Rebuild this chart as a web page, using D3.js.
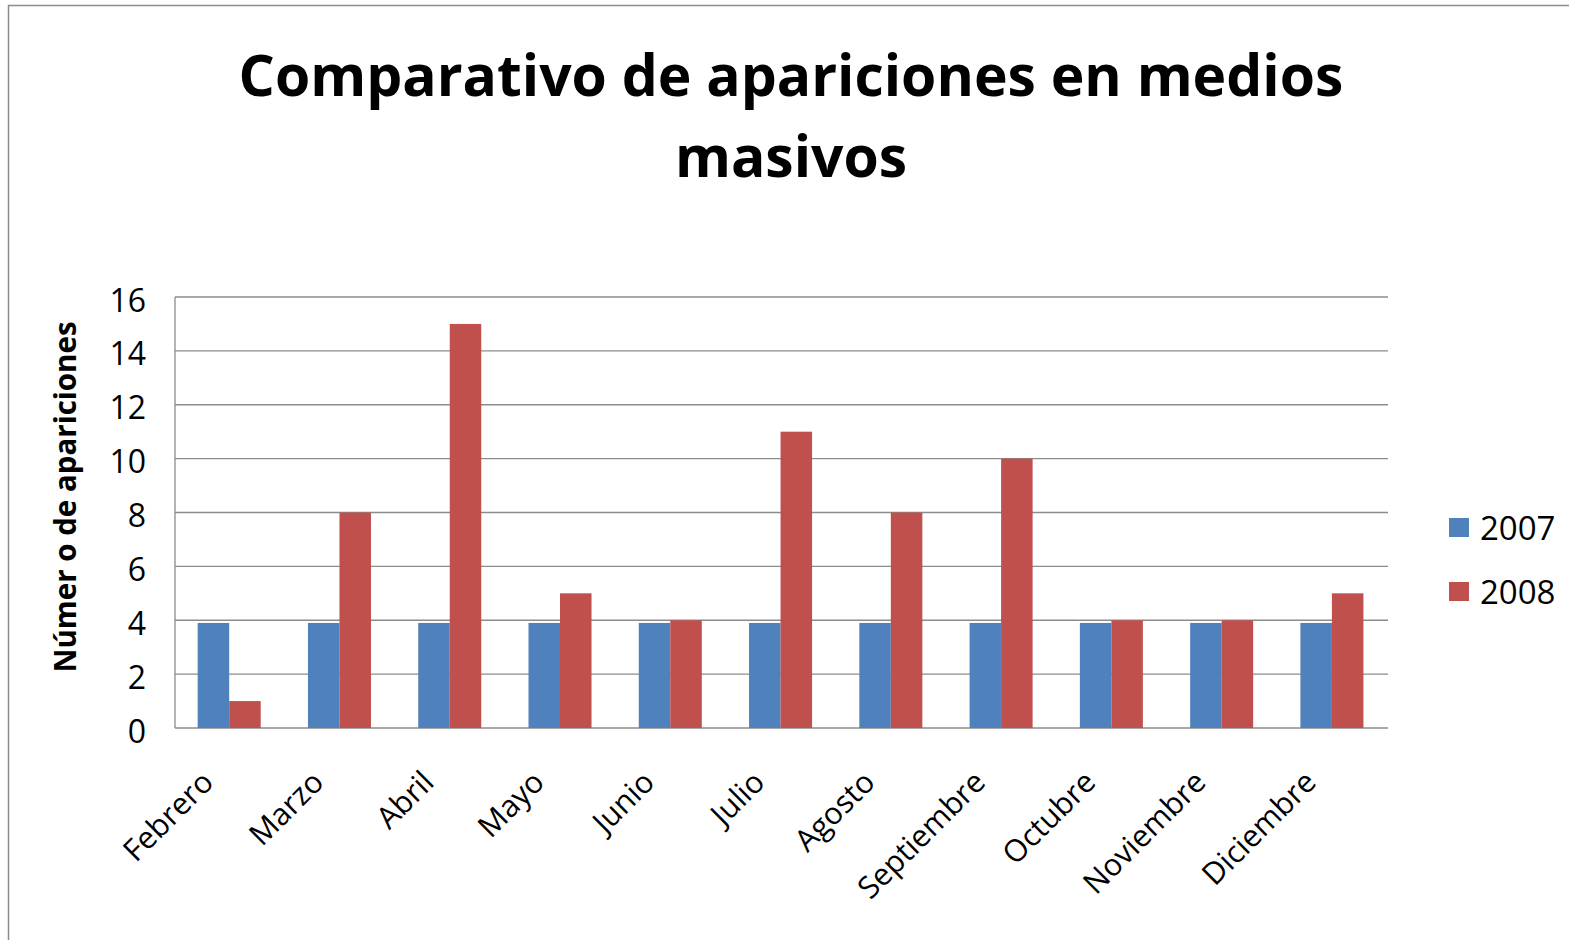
<!DOCTYPE html>
<html>
<head>
<meta charset="utf-8">
<script src="https://cdn.jsdelivr.net/npm/d3@7"></script>
<style>
  body { margin: 0; background: #fff; }
  text { font-family: "Open Sans", sans-serif; }
</style>
</head>
<body>
<script>
var months = ["Febrero", "Marzo", "Abril", "Mayo", "Junio", "Julio", "Agosto",
  "Septiembre", "Octubre", "Noviembre", "Diciembre"];
var series = ["2007", "2008"];
var values2007 = [3.9, 3.9, 3.9, 3.9, 3.9, 3.9, 3.9, 3.9, 3.9, 3.9, 3.9];
var values2008 = [1, 8, 15, 5, 4, 11, 8, 10, 4, 4, 5];
var yTicks = [0, 2, 4, 6, 8, 10, 12, 14, 16];
var colors = ["#4f81bd", "#c0504d"];

var outerWidth = 1569, outerHeight = 940;
var plot = {left: 175, right: 1388, top: 297, bottom: 728};

var svg = d3.select("body").append("svg")
  .attr("width", outerWidth)
  .attr("height", outerHeight);

// frame
svg.append("rect")
  .attr("x", 8.5).attr("y", 5.5)
  .attr("width", outerWidth).attr("height", outerHeight)
  .attr("fill", "none").attr("stroke", "#8c8c8c").attr("stroke-width", 1.5);

// title
var title = svg.append("text")
  .attr("text-anchor", "middle")
  .attr("font-weight", "bold")
  .attr("font-size", 57);
title.append("tspan").attr("x", 791).attr("y", 96).text("Comparativo de apariciones en medios");
title.append("tspan").attr("x", 791).attr("y", 177).text("masivos");

var x0 = d3.scaleBand().domain(months).range([plot.left, plot.right]).padding(0);
var barW = x0.bandwidth() / 3.5;
var x1 = d3.scaleBand().domain(series).range([barW * 0.72, barW * 2.72]);
var y = d3.scaleLinear().domain([0, 16]).range([plot.bottom, plot.top]);

// gridlines
svg.append("g").selectAll("line").data(yTicks).join("line")
  .attr("x1", plot.left).attr("x2", plot.right)
  .attr("y1", function(d) { return y(d); })
  .attr("y2", function(d) { return y(d); })
  .attr("stroke", "#8c8c8c").attr("stroke-width", 1.3);

// bars
var rows = months.map(function(m, i) {
  return {month: m, vals: [values2007[i], values2008[i]]};
});
var groups = svg.append("g").selectAll("g").data(rows).join("g")
  .attr("transform", function(d) { return "translate(" + x0(d.month) + ",0)"; });
groups.selectAll("rect").data(function(d) { return d.vals; }).join("rect")
  .attr("x", function(d, i) { return x1(series[i]); })
  .attr("width", x1.bandwidth())
  .attr("y", function(d) { return y(d); })
  .attr("height", function(d) { return y(0) - y(d); })
  .attr("fill", function(d, i) { return colors[i]; });

// y axis line
svg.append("line")
  .attr("x1", plot.left).attr("x2", plot.left)
  .attr("y1", plot.top).attr("y2", plot.bottom)
  .attr("stroke", "#8c8c8c").attr("stroke-width", 1.3);

// y tick labels
svg.append("g").selectAll("text").data(yTicks).join("text")
  .attr("x", 146).attr("y", function(d) { return y(d) + 3; })
  .attr("dy", "0.36em")
  .attr("text-anchor", "end")
  .attr("font-size", 32)
  .text(function(d) { return d; });

// x labels
svg.append("g").selectAll("text").data(months).join("text")
  .attr("text-anchor", "end")
  .attr("font-size", 30.5)
  .attr("transform", function(d) {
    return "translate(" + (x0(d) + x0.bandwidth() / 2 - 15) + ",784) rotate(-45)";
  })
  .text(function(d) { return d; });

// y title
svg.append("text")
  .attr("transform", "translate(76,497) rotate(-90)")
  .attr("text-anchor", "middle")
  .attr("font-weight", "bold")
  .attr("font-size", 29.5)
  .text("Númer o de apariciones");

// legend
var legend = svg.append("g").selectAll("g").data(series).join("g")
  .attr("transform", function(d, i) { return "translate(1449," + (518 + i * 64) + ")"; });
legend.append("rect").attr("width", 20).attr("height", 19)
  .attr("fill", function(d, i) { return colors[i]; });
legend.append("text").attr("x", 31).attr("y", 10).attr("dy", "0.36em")
  .attr("font-size", 33)
  .text(function(d) { return d; });
</script>
</body>
</html>
